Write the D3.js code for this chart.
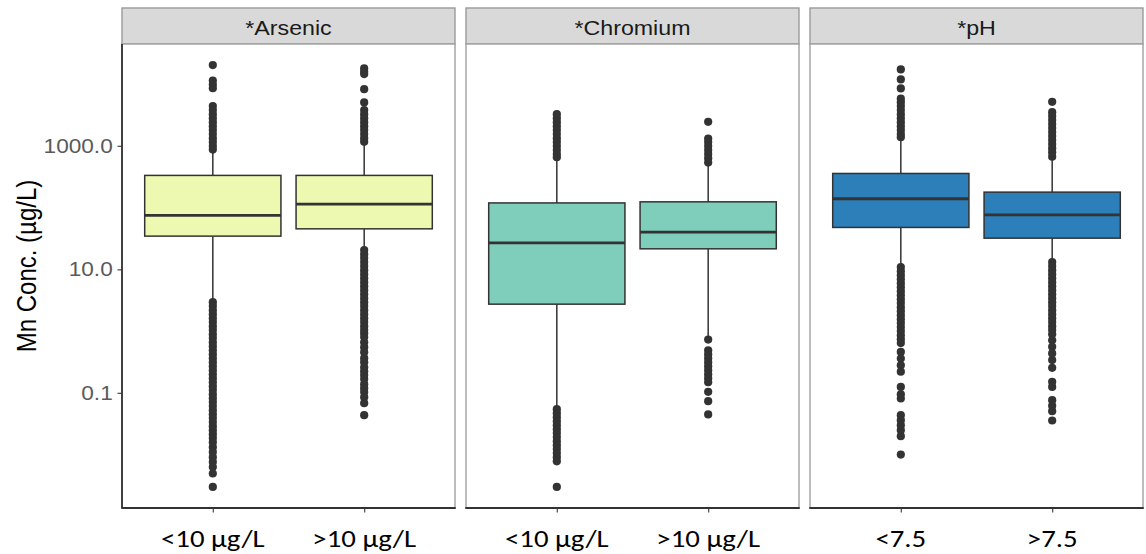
<!DOCTYPE html>
<html>
<head>
<meta charset="utf-8">
<script src="https://cdn.jsdelivr.net/npm/d3@7"></script>
<style>
  body { margin: 0; background: #fff; }
  svg { display: block; }
</style>
</head>
<body>
<svg id="chart" width="1146" height="554"></svg>
<script>
// Facets and the two groups inside each facet
const facets = ["*Arsenic", "*Chromium", "*pH"];
const groupLabels = [["<10 µg/L", ">10 µg/L"], ["<10 µg/L", ">10 µg/L"], ["<7.5", ">7.5"]];
const yTickValues = [0.1, 10, 1000];

// Box statistics (µg/L), order: As<10, As>10, Cr<10, Cr>10, pH<7.5, pH>7.5
const whiskerLow  = [3.0, 23, 0.057, 0.78, 11.2, 13.5];
const quartile1   = [34.5, 45.3, 2.73, 21.5, 47.7, 32];
const medians     = [74.6, 114, 26.9, 40, 139, 76.3];
const quartile3   = [332, 332, 119, 124, 357, 178];
const whiskerHigh = [820, 1050, 610, 500, 1300, 610];

// Outlying samples (µg/L)
const outArsenicLow = [20300, 11400, 9800, 8600, 4400, 3790, 3260, 2810, 2420, 2080, 1800, 1550, 1330, 1150, 990, 870,
  2.94, 2.54, 2.18, 1.88, 1.62, 1.40, 1.20, 1.04, 0.89, 0.77, 0.66, 0.57, 0.49, 0.42, 0.365, 0.314, 0.27, 0.233, 0.20,
  0.173, 0.149, 0.128, 0.111, 0.095, 0.082, 0.071, 0.061, 0.0525, 0.045, 0.039, 0.0336, 0.0289, 0.0249, 0.0214, 0.0185,
  0.0159, 0.0132, 0.011, 0.0091, 0.0076, 0.0063, 0.00495, 0.0030];
const outArsenicHigh = [17900, 15800, 14500, 8280, 5040, 3790, 3260, 2810, 2420, 2080, 1800, 1550, 1330, 1160,
  20.5, 17.6, 15.2, 13.1, 11.3, 9.7, 8.36, 7.2, 6.21, 5.35, 4.6, 3.96, 3.42, 2.94, 2.54, 2.18, 1.88, 1.62, 1.40, 1.20,
  1.04, 0.92, 0.80, 0.66, 0.55, 0.456, 0.365, 0.314, 0.26, 0.224, 0.194, 0.167, 0.138, 0.119, 0.103, 0.085, 0.068, 0.0436];
const outChromiumLow = [3260, 2810, 2420, 2080, 1800, 1550, 1330, 1150, 990, 853, 735, 656,
  0.0545, 0.0469, 0.0404, 0.0348, 0.030, 0.0258, 0.0223, 0.0192, 0.0165, 0.0142, 0.0123, 0.0106, 0.0091, 0.0078, 0.0030];
const outChromiumHigh = [2450, 1310, 1150, 990, 853, 735, 632, 535,
  0.73, 0.49, 0.42, 0.365, 0.314, 0.27, 0.233, 0.20, 0.173, 0.149, 0.104, 0.0734, 0.0447];
const outPhLow = [17300, 11900, 8500, 5810, 5100, 4400, 3790, 3260, 2810, 2420, 2080, 1800, 1550, 1380,
  10.9, 9.35, 8.06, 6.94, 5.98, 5.15, 4.44, 3.82, 3.29, 2.84, 2.44, 2.10, 1.81, 1.56, 1.35, 1.16, 1.00, 0.86, 0.74, 0.64,
  0.46, 0.36, 0.28, 0.22, 0.125, 0.095, 0.081, 0.0435, 0.0361, 0.030, 0.0249, 0.0199, 0.010];
const outPhHigh = [5160, 3510, 3030, 2610, 2250, 1940, 1670, 1440, 1240, 1070, 918, 791, 668,
  13.1, 11.3, 9.7, 8.36, 7.2, 6.21, 5.35, 4.6, 3.96, 3.42, 2.94, 2.54, 2.18, 1.88, 1.62, 1.40, 1.20, 1.04, 0.89,
  0.71, 0.556, 0.435, 0.339, 0.254, 0.151, 0.125, 0.076, 0.0616, 0.0506, 0.0357];
const outliers = [outArsenicLow, outArsenicHigh, outChromiumLow, outChromiumHigh, outPhLow, outPhHigh];

// Styling
const facetFills = ["#edf8b1", "#7fcdbb", "#2c7fb8"];
const ink = "#333333";
const stretch = 1.16; // horizontal text stretch

const svg = d3.select("#chart");
const plotLeft = 122, plotRight = 1143, panelGap = 11;
const panelTop = 44, panelBottom = 508, stripTop = 8;

const panelW = (plotRight - plotLeft - 2 * panelGap) / facets.length;
const fx = d3.scaleOrdinal().domain(facets)
  .range(facets.map((f, i) => plotLeft + i * (panelW + panelGap)));

// Log y scale spanning all values with a 5% margin (in log space)
const allValues = [].concat(...outliers, whiskerLow, whiskerHigh);
const lo = Math.log10(d3.min(allValues)), hi = Math.log10(d3.max(allValues));
const pad = (hi - lo) * 0.05;
const y = d3.scaleLog().domain([10 ** (lo - pad), 10 ** (hi + pad)]).range([panelBottom, panelTop]);

facets.forEach((facet, fi) => {
  const x0 = fx(facet);
  const g = svg.append("g").attr("transform", `translate(${x0},0)`);
  const x = d3.scalePoint().domain(groupLabels[fi]).range([0, panelW]).padding(0.6);
  const boxW = x.step() * 0.9;

  // strip
  g.append("rect").attr("x", 0).attr("y", stripTop).attr("width", panelW).attr("height", panelTop - stripTop)
    .attr("fill", "#d9d9d9").attr("stroke", "#9a9a9a").attr("stroke-width", 1.4);
  g.append("text").attr("transform", `translate(${panelW / 2},35) scale(${stretch},1)`)
    .attr("text-anchor", "middle").attr("font-family", "Liberation Sans, Arial, sans-serif")
    .attr("font-size", 20).attr("fill", "#1a1a1a").text(facet);

  // panel frame
  g.append("rect").attr("x", 0).attr("y", panelTop).attr("width", panelW).attr("height", panelBottom - panelTop)
    .attr("fill", "#fff").attr("stroke", "#a0a0a0").attr("stroke-width", 1.4);

  groupLabels[fi].forEach((lab, gi) => {
    const k = fi * 2 + gi;
    const cx = x(lab);
    const bg = g.append("g");
    bg.selectAll("circle").data(outliers[k]).join("circle")
      .attr("cx", cx).attr("cy", d => y(d)).attr("r", 4.1).attr("fill", ink);
    bg.append("line").attr("x1", cx).attr("x2", cx).attr("y1", y(quartile3[k])).attr("y2", y(whiskerHigh[k]))
      .attr("stroke", ink).attr("stroke-width", 1.5);
    bg.append("line").attr("x1", cx).attr("x2", cx).attr("y1", y(quartile1[k])).attr("y2", y(whiskerLow[k]))
      .attr("stroke", ink).attr("stroke-width", 1.5);
    bg.append("rect").attr("x", cx - boxW / 2).attr("width", boxW)
      .attr("y", y(quartile3[k])).attr("height", y(quartile1[k]) - y(quartile3[k]))
      .attr("fill", facetFills[fi]).attr("stroke", ink).attr("stroke-width", 1.5);
    bg.append("line").attr("x1", cx - boxW / 2).attr("x2", cx + boxW / 2)
      .attr("y1", y(medians[k])).attr("y2", y(medians[k]))
      .attr("stroke", ink).attr("stroke-width", 2.8);
  });

  // bottom axis
  const xa = g.append("g").attr("transform", `translate(0,${panelBottom})`)
    .call(d3.axisBottom(x).tickSize(4.5).tickPadding(0).tickFormat(""));
  xa.select(".domain").remove();
  xa.selectAll(".tick line").attr("stroke", "#555").attr("stroke-width", 1.3);
  g.append("line").attr("x1", -0.7).attr("x2", panelW + 0.7).attr("y1", panelBottom).attr("y2", panelBottom)
    .attr("stroke", ink).attr("stroke-width", 1.8);
  groupLabels[fi].forEach(lab => {
    g.append("text").attr("transform", `translate(${x(lab)},547) scale(1.2,1)`)
      .attr("text-anchor", "middle").attr("font-family", "Carlito, Lato, sans-serif")
      .attr("font-size", 24).attr("fill", "#000").text(lab);
  });

  if (fi === 0) {
    const ya = g.append("g").call(d3.axisLeft(y).tickValues(yTickValues)
      .tickFormat(d3.format(".1f")).tickSize(4.5).tickPadding(3.5));
    ya.select(".domain").remove();
    ya.selectAll(".tick line").attr("stroke", "#555").attr("stroke-width", 1.3);
    ya.selectAll(".tick text").attr("font-family", "Liberation Sans, Arial, sans-serif")
      .attr("font-size", 19.5).attr("fill", "#5a5a5a")
      .attr("transform", `scale(${stretch},1)`);
    g.append("line").attr("x1", 0).attr("x2", 0).attr("y1", panelTop).attr("y2", panelBottom)
      .attr("stroke", ink).attr("stroke-width", 1.8);
  }
});

// y-axis title
svg.append("text").attr("transform", `translate(36,266) rotate(-90) scale(1,${stretch})`)
  .attr("text-anchor", "middle").attr("font-family", "Liberation Sans, Arial, sans-serif")
  .attr("font-size", 24).attr("fill", "#000").text("Mn Conc. (µg/L)");
</script>
</body>
</html>
